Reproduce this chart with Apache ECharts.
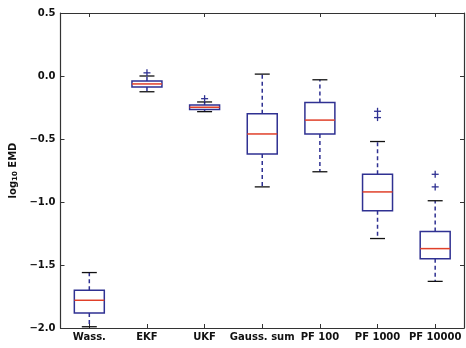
<!DOCTYPE html>
<html><head><meta charset="utf-8">
<script src="https://cdn.jsdelivr.net/npm/echarts@6/dist/echarts.min.js"></script>
<style>html,body{margin:0;padding:0;background:#fff}#c{width:466px;height:348px}</style>
</head><body><div id="c"></div>
<script>
var categories = ['Wass.', 'EKF', 'UKF', 'Gauss. sum', 'PF 100', 'PF 1000', 'PF 10000'];
var whiskerLow  = [-1.99, -0.125, -0.283, -0.88, -0.76, -1.29, -1.63];
var q1          = [-1.88, -0.087, -0.265, -0.62, -0.46, -1.07, -1.45];
var median      = [-1.78, -0.063, -0.248, -0.46, -0.35, -0.92, -1.37];
var q3          = [-1.70, -0.040, -0.230, -0.30, -0.21, -0.78, -1.235];
var whiskerHigh = [-1.56, 0.000, -0.206, 0.015, -0.03, -0.52, -0.99];
var outlierCat  = [1, 2, 5, 5, 6, 6];
var outlierVal  = [0.025, -0.18, -0.28, -0.33, -0.78, -0.88];
var yTicks = [-2.0, -1.5, -1.0, -0.5, 0.0, 0.5];

var boxData = categories.map(function (c, i) {
  return [i, whiskerLow[i], q1[i], median[i], q3[i], whiskerHigh[i]];
});
var outData = outlierCat.map(function (c, i) { return [c, outlierVal[i]]; });

var BLUE = '#2f3192', RED = '#e0402a', BLACK = '#111';

function renderBox(params, api) {
  var idx = api.value(0);
  var x = api.coord([idx, 0])[0];
  var yl = api.coord([idx, api.value(1)])[1];
  var y1 = api.coord([idx, api.value(2)])[1];
  var ym = api.coord([idx, api.value(3)])[1];
  var y3 = api.coord([idx, api.value(4)])[1];
  var yh = api.coord([idx, api.value(5)])[1];
  var bw = api.size([1, 0])[0] * 0.52;
  var hw = bw / 2, cw = bw / 4;
  var dash = {stroke: BLUE, lineWidth: 1.5, lineDash: [4, 3]};
  return {
    type: 'group',
    children: [
      {type: 'line', shape: {x1: x, y1: y3, x2: x, y2: yh}, style: dash},
      {type: 'line', shape: {x1: x, y1: y1, x2: x, y2: yl}, style: dash},
      {type: 'line', shape: {x1: x - cw, y1: yh, x2: x + cw, y2: yh}, style: {stroke: BLACK, lineWidth: 1.3}},
      {type: 'line', shape: {x1: x - cw, y1: yl, x2: x + cw, y2: yl}, style: {stroke: BLACK, lineWidth: 1.3}},
      {type: 'rect', shape: {x: x - hw, y: y3, width: bw, height: y1 - y3}, style: {fill: '#fff', stroke: BLUE, lineWidth: 1.5}},
      {type: 'line', shape: {x1: x - hw, y1: ym, x2: x + hw, y2: ym}, style: {stroke: RED, lineWidth: 1.5}}
    ]
  };
}

function renderPlus(params, api) {
  var p = api.coord([api.value(0), api.value(1)]);
  var s = 3.5;
  return {
    type: 'group',
    children: [
      {type: 'line', shape: {x1: p[0] - s, y1: p[1], x2: p[0] + s, y2: p[1]}, style: {stroke: BLUE, lineWidth: 1.3}},
      {type: 'line', shape: {x1: p[0], y1: p[1] - s, x2: p[0], y2: p[1] + s}, style: {stroke: BLUE, lineWidth: 1.3}}
    ]
  };
}

var chart = echarts.init(document.getElementById('c'));
var axisLine = {show: true, onZero: false, lineStyle: {color: '#333', width: 1.2}};
var tickStyle = {show: true, inside: true, length: 4, lineStyle: {color: '#333', width: 1}};
var font = {fontFamily: 'DejaVu Sans', fontWeight: 'bold', fontSize: 10, color: '#111'};
chart.setOption({
  animation: false,
  grid: {left: 60, right: 2, top: 13, bottom: 20},
  xAxis: [{
    type: 'category', data: categories, position: 'bottom',
    axisLine: axisLine,
    axisTick: Object.assign({alignWithLabel: true}, tickStyle),
    axisLabel: Object.assign({margin: 4, interval: 0}, font),
    splitLine: {show: false}
  }, {
    type: 'category', data: categories, position: 'top',
    axisLine: axisLine,
    axisTick: Object.assign({alignWithLabel: true}, tickStyle),
    axisLabel: {show: false}, splitLine: {show: false}
  }],
  yAxis: [{
    type: 'value', min: -2.0, max: 0.5, interval: 0.5, position: 'left',
    axisLine: axisLine, axisTick: tickStyle, splitLine: {show: false},
    axisLabel: Object.assign({margin: 5, formatter: function (v) {
      var t = yTicks.filter(function (k) { return Math.abs(k - v) < 1e-9; });
      if (!t.length) return '';
      return (v < 0 ? '\u2212' : '') + Math.abs(v).toFixed(1);
    }}, font),
    name: '{a|log}{s|10}{a| EMD}', nameLocation: 'middle', nameRotate: 90, nameGap: 31,
    nameTextStyle: {rich: {
      a: {fontFamily: 'DejaVu Sans', fontWeight: 'bold', fontSize: 10, color: '#111'},
      s: {fontFamily: 'DejaVu Sans', fontWeight: 'bold', fontSize: 7, color: '#111', padding: [4, 0, 0, 0]}
    }}
  }, {
    type: 'value', min: -2.0, max: 0.5, interval: 0.5, position: 'right',
    axisLine: axisLine, axisTick: tickStyle, splitLine: {show: false},
    axisLabel: {show: false}
  }],
  series: [{
    type: 'custom', renderItem: renderBox, data: boxData,
    encode: {x: 0, y: [1, 2, 3, 4, 5]}, z: 3
  }, {
    type: 'custom', renderItem: renderPlus, data: outData,
    encode: {x: 0, y: 1}, z: 4
  }]
});
</script></body></html>
